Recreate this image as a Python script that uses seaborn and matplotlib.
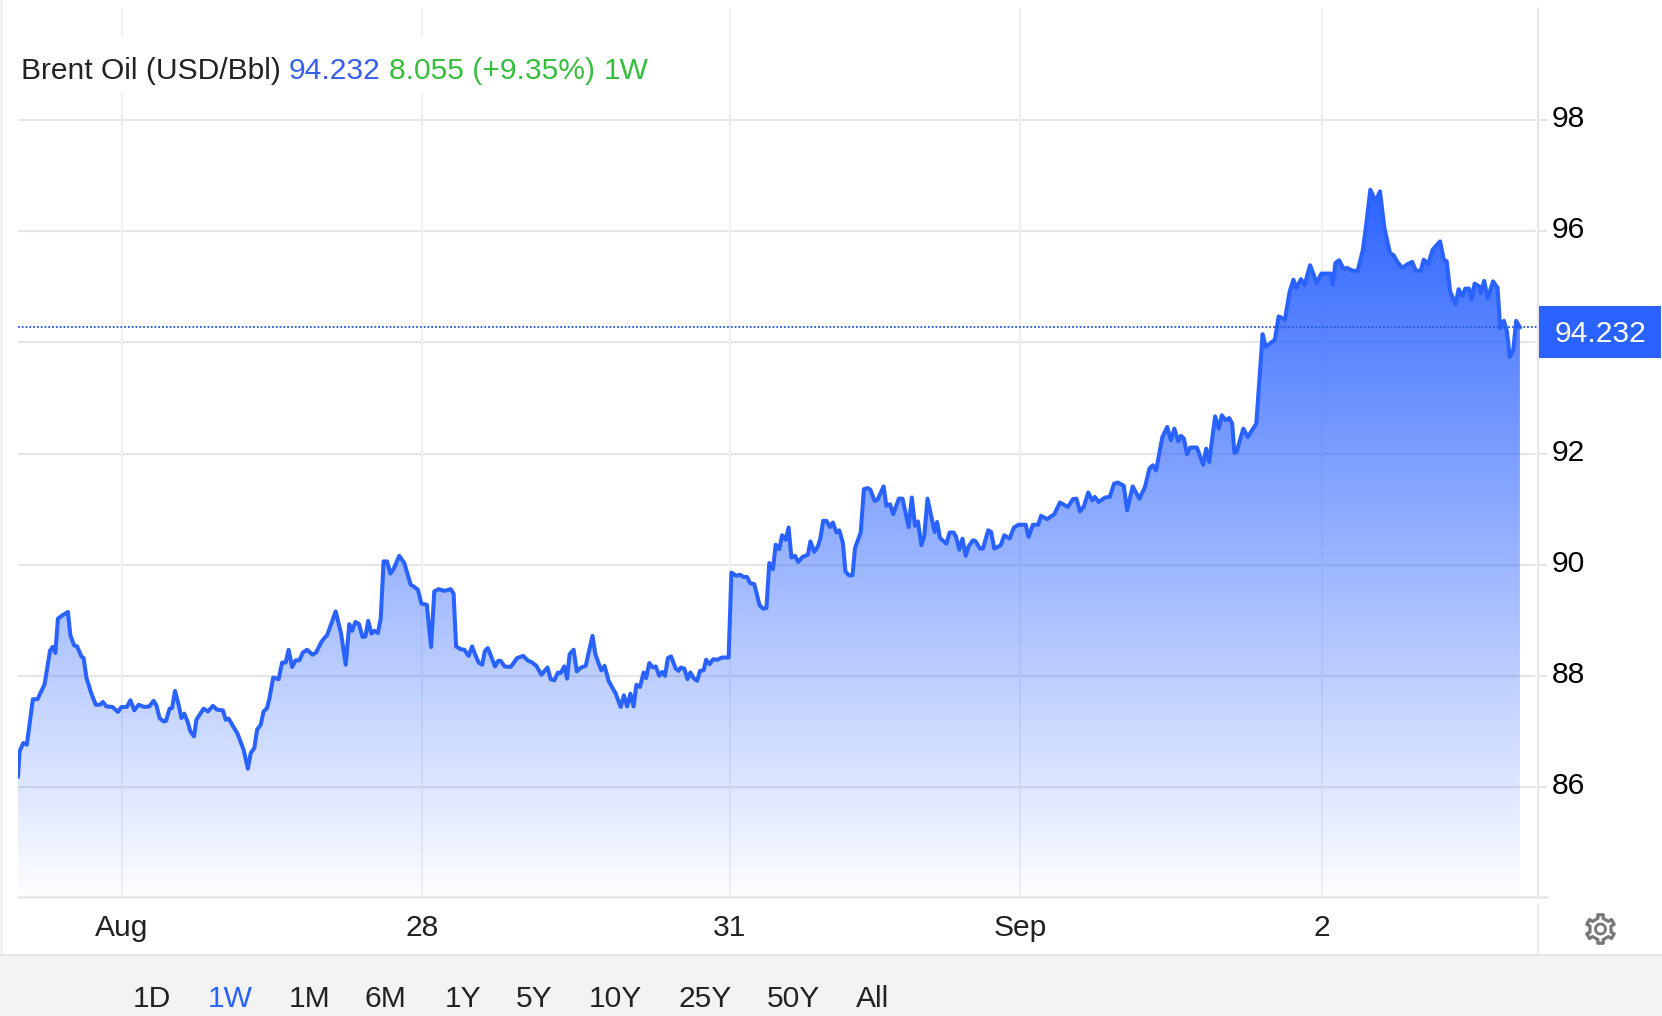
import numpy as np
import pandas as pd
import matplotlib
matplotlib.use("Agg")
import matplotlib.pyplot as plt
from matplotlib.colors import LinearSegmentedColormap
from matplotlib.lines import Line2D
from matplotlib.patches import Rectangle, Polygon
from matplotlib.transforms import ScaledTranslation
import seaborn as sns

# session position along the time axis
t = [0,1.6,5.2,8.8,14.9,19.5,26.6,32,34.5,37.4,39.9,44.5,49.9,52.4,56,59.1,63.4,65.6,68.4,73,77.7,82,84.9,88.4,94.5,99.9,103.4,108.8,112.4,116.3,120.6,126.3,131.3,135.6,138.4,141.6,145.6,148,151.6,154.1,157,160.6,163.4,166.3,169.5,172.4,176,178.4,185.6,189.9,194.9,199.1,204.9,207.7,210.6,219.5,225.6,229.9,232.7,236.3,239.1,242.7,245.6,249.1,251.6,255.2,260.6,264.1,267.7,270.6,274.1,277.7,281.3,284.9,289.1,294.5,298.1,303.4,306.3,309.1,317.7,323.1,327.7,331.3,334.1,337.4,341,344.5,347.4,350.2,353.4,356.3,359.9,362.7,365.6,369.1,372.4,376,381.3,386.3,392.7,395.6,399.9,403.4,408.8,413.1,416.3,420.6,426.6,432.7,435.6,438.1,442.7,446.3,450.6,454.1,457,460.6,464.1,467,469.9,477,480.2,482.7,486.6,492.7,499.1,505.2,509.5,514.1,518.4,523.4,529.5,532.7,536.3,539.9,
     542.7,546.3,549.1,551.6,555.6,558.8,563.1,567.7,574.5,577.4,580.9,583.4,586.6,590.6,597.7,602.7,605.9,609.1,612.4,615.6,618.4,622,625.6,628.1,631.3,634.9,637.7,641.3,644.1,647,649.9,653.1,657.7,660.6,662.7,666.3,669.5,672.4,675.6,679.1,682,685.6,688.1,691.6,695.2,699.5,703.8,710.6,713.4,718.4,722,725.6,729.1,732,736.3,741.6,745.2,748.4,751.3,754.9,757.7,761.3,764.1,767.7,770.6,773.4,777,780.2,784.5,789.9,792.4,796.3,799.9,802.4,805.2,808.4,812,814.9,818.4,821.3,824.9,827.4,830.9,834.5,837,842.7,845.9,849.9,852.4,856.6,859.5,865.6,868.4,872,875.2,880.9,884.5,890.6,893.8,897,899.9,903.4,906.3,909.5,916.6,919.1,922,928.4,931.6,935.6,938.1,941.3,944.5,947.7,950.6,954.9,957.7,962,964.9,970.2,973.1,976.3,982.7,986.3,991.6,995.9,1000.6,1007.7,1010.6,1014.9,1020.2,1023.1,1029.1,1036.3,1042,1049.9,1054.9,1058.4,1062,
     1065.7,1070.2,1074.2,1076.8,1080.6,1087.2,1091.7,1096.1,1099.9,1105.8,1109.1,1114.7,1121.4,1127,1131.4,1134.8,1138.1,1144.4,1149.2,1152.9,1156.3,1160.4,1163,1165.9,1168.9,1172.2,1178.9,1185.2,1188.2,1191.2,1197.1,1200.8,1203.8,1207.5,1211.2,1214.2,1216.4,1218.6,1225.3,1229.8,1238.3,1241.3,1244.6,1247.6,1256.9,1260.6,1266.9,1271.7,1275.4,1278.4,1282.9,1286.6,1292.1,1298.8,1303.3,1312.6,1314.8,1317.4,1321.1,1325.5,1329.3,1334.8,1339.7,1344.9,1348.6,1352.3,1357.5,1362,1366.4,1372,1375.7,1379.4,1384.2,1388.6,1394.2,1397.9,1402.8,1405.7,1410.2,1414.6,1422.1,1425.8,1428.7,1432.1,1437.6,1440.6,1444.3,1447.3,1451,1453.6,1456.6,1461,1462.9,1466.2,1469.6,1475.1,1479.6,1482.2,1485.9,1488.9,1491.8,1495.2,1498.2,1501.9]

price = [86.18,86.64,86.79,86.76,87.58,87.58,87.85,88.45,88.52,88.41,89.03,89.09,89.15,88.73,88.55,88.53,88.35,88.32,87.97,87.70,87.48,87.48,87.53,87.45,87.44,87.35,87.44,87.44,87.56,87.38,87.48,87.44,87.45,87.55,87.47,87.24,87.18,87.19,87.41,87.42,87.73,87.48,87.24,87.32,87.18,87.0,86.91,87.21,87.41,87.36,87.46,87.39,87.38,87.21,87.23,86.96,86.67,86.33,86.61,86.70,87.03,87.12,87.36,87.42,87.61,87.97,87.94,88.24,88.24,88.47,88.16,88.28,88.28,88.42,88.47,88.38,88.42,88.61,88.68,88.73,89.16,88.76,88.2,88.93,88.81,88.97,88.93,88.7,88.71,88.99,88.76,88.81,88.77,89.03,90.06,90.06,89.84,89.94,90.16,90.03,89.64,89.61,89.55,89.3,89.28,88.52,89.52,89.56,89.53,89.56,89.48,88.53,88.48,88.47,88.36,88.53,88.39,88.24,88.2,88.45,88.5,88.17,88.27,88.27,88.17,88.16,88.32,88.36,88.28,88.24,88.18,88.02,88.15,87.94,87.92,88.06,
         88.05,88.17,87.95,88.39,88.47,88.08,88.15,88.18,88.72,88.39,88.21,88.10,88.18,87.91,87.68,87.44,87.65,87.45,87.68,87.45,87.84,87.8,88.06,87.96,88.23,88.15,88.17,88.0,88.07,88.0,88.32,88.35,88.13,88.09,88.15,88.13,87.94,88.06,87.96,87.91,88.09,88.1,88.29,88.21,88.3,88.29,88.33,88.33,89.86,89.8,89.82,89.78,89.78,89.67,89.65,89.27,89.21,89.22,90.03,89.92,90.36,90.28,90.53,90.45,90.67,90.13,90.16,90.05,90.14,90.18,90.42,90.23,90.33,90.48,90.79,90.79,90.68,90.76,90.58,90.62,90.39,89.88,89.81,89.81,90.3,90.58,91.36,91.38,91.35,91.15,91.17,91.41,91.06,91.09,90.91,91.19,91.19,90.68,91.21,90.7,90.78,90.35,90.52,91.19,90.59,90.77,90.48,90.38,90.58,90.58,90.5,90.27,90.47,90.16,90.33,90.44,90.42,90.29,90.29,90.62,90.59,90.29,90.35,90.53,90.47,90.67,90.72,90.72,90.5,90.72,90.72,90.88,90.82,90.91,91.12,91.04,91.18,91.19,90.96,
         91.04,91.3,91.16,91.22,91.13,91.21,91.22,91.46,91.48,91.42,90.98,91.41,91.19,91.4,91.73,91.79,91.7,92.3,92.48,92.24,92.45,92.22,92.32,92.27,91.99,92.11,92.11,91.8,92.09,91.85,92.67,92.45,92.69,92.6,92.64,92.54,92.01,92.03,92.45,92.3,92.54,93.32,94.15,93.92,94.05,94.47,94.41,94.92,95.13,94.98,95.14,95.04,95.39,95.07,95.24,95.24,95.04,95.43,95.48,95.33,95.34,95.29,95.29,95.67,96.18,96.75,96.54,96.72,96.06,95.61,95.57,95.45,95.34,95.4,95.45,95.29,95.29,95.49,95.41,95.67,95.82,95.49,95.46,94.92,94.69,94.96,94.83,94.97,94.97,94.77,95.06,95.01,94.89,95.11,94.8,95.1,94.98,94.26,94.39,94.2,93.74,93.86,94.39,94.27]

last_level = 94.27
last_label = "94.232"
y_ticks = [86, 88, 90, 92, 94, 96, 98]
y_tick_labels = ["86", "88", "90", "92", "", "96", "98"]
x_tick_pos = [104, 404, 712, 1002, 1304]
x_tick_labels = ["Aug", "28", "31", "Sep", "2"]
ranges = ["1D", "1W", "1M", "6M", "1Y", "5Y", "10Y", "25Y", "50Y", "All"]
range_x = [133, 208, 289, 365, 445, 516, 589, 678, 767, 856]
title_parts = [("Brent Oil (USD/Bbl)", "#222222", 21), ("94.232", "#3560ee", 289),
               ("8.055 (+9.35%)", "#35bd3c", 389), ("1W", "#35bd3c", 604)]

W, H = 1662, 1016
FS = 21.6
BLUE = "#2962ff"
GRID = "#e6e6e6"
VGRID = "#f0f0f2"

sns.set_theme(style="white")
plt.rcParams["font.family"] = ["Liberation Sans", "DejaVu Sans"]
fig = plt.figure(figsize=(W / 100, H / 100), dpi=100, facecolor="white")
fx = lambda p: p / W
fy = lambda p: 1 - p / H

L, R, T, B = 18, 1538, 8, 897
ax = fig.add_axes([fx(L), fy(B), fx(R - L), (B - T) / H])
ax.set_facecolor("white")

df = pd.DataFrame({"t": t, "price": price})
ymin, ymax = 84.02, 100.02

for v in y_ticks:
    ax.plot([0, 1517], [v, v], color=GRID, lw=1.5, zorder=1)
for p in x_tick_pos:
    ax.axvline(p, color=VGRID, lw=1.4, zorder=1)

# gradient fill clipped to the area below the line
poly = ax.fill_between(df["t"], df["price"], ymin, color="none", lw=0)
cmap = LinearSegmentedColormap.from_list("f", [(0.161, 0.384, 1.0, 0.01), (0.161, 0.384, 1.0, 1.0)])
grad = np.linspace(1, 0, 256).reshape(-1, 1)
im = ax.imshow(grad, extent=[0, df["t"].max(), ymin, 97.0], aspect="auto", cmap=cmap,
               origin="upper", zorder=2, vmin=0, vmax=1, interpolation="bilinear")
im.set_clip_path(poly.get_paths()[0], transform=ax.transData)

sns.lineplot(data=df, x="t", y="price", ax=ax, color=BLUE, lw=2.9, estimator=None,
             sort=False, zorder=3, solid_joinstyle="round")
ax.axhline(last_level, color="#2458d8", lw=1.3, ls=(0, (1, 1.1)), zorder=4)

ax.set_xlim(0, R - L)
ax.set_ylim(ymin, ymax)
ax.set_xlabel("")
ax.set_ylabel("")
for s in ["top", "left", "bottom"]:
    ax.spines[s].set_visible(False)
ax.spines["right"].set_color(GRID)
ax.spines["right"].set_linewidth(1.4)

ax.yaxis.tick_right()
ax.set_yticks(y_ticks)
ax.set_yticklabels(y_tick_labels)
ax.set_xticks(x_tick_pos)
ax.set_xticklabels(x_tick_labels)
ax.tick_params(axis="y", length=6.5, width=1.4, color=GRID, pad=3.5, labelsize=FS,
               labelcolor="#000000", right=True, left=False)
ax.tick_params(axis="x", length=0, pad=12, labelsize=FS, labelcolor="#222222", bottom=True)
shift = ScaledTranslation(0, 4 / 100, fig.dpi_scale_trans)
for lab in ax.get_yticklabels():
    lab.set_transform(lab.get_transform() + shift)

# white header behind the title
fig.add_artist(Rectangle((fx(L), fy(93)), fx(645), 56 / H, color="white", lw=0, zorder=5))
for txt, col, xp in title_parts:
    fig.text(fx(xp), fy(71), txt, color=col, fontsize=FS, va="center", ha="left", zorder=6)

# frame pieces
fig.add_artist(Line2D([fx(L), fx(1547)], [fy(897), fy(897)], color=GRID, lw=1.8, zorder=6))
fig.add_artist(Line2D([fx(R), fx(R)], [fy(903), fy(955)], color=GRID, lw=1.2, zorder=6))
fig.add_artist(Line2D([fx(1), fx(1)], [fy(0), fy(955)], color=GRID, lw=1.0, zorder=6))

# last price tag
fig.add_artist(Rectangle((fx(1539), fy(358)), fx(122), 52 / H, color=BLUE, lw=0, zorder=6))
fig.text(fx(1600), fy(334), last_label, color="white", fontsize=FS, ha="center",
         va="center", zorder=7)

# range bar
fig.add_artist(Rectangle((0, 0), 1, (H - 955) / H, color="#f3f3f3", lw=0, zorder=5))
fig.add_artist(Line2D([0, 1], [fy(955), fy(955)], color=GRID, lw=1.4, zorder=6))
for lab, xp in zip(ranges, range_x):
    fig.text(fx(xp), fy(999), lab, color=BLUE if lab == "1W" else "#222222", fontsize=FS,
             va="center", ha="left", zorder=7)

# settings icon
cx, cy = 1600.5, 929
gear = []
for k in range(6):
    a0 = np.pi / 2 + k * np.pi / 3
    for da, r in [(-0.52, 10.5), (-0.24, 11), (-0.19, 14.5), (0.19, 14.5), (0.24, 11)]:
        gear.append((fx(cx + r * np.cos(a0 + da)), fy(cy - r * np.sin(a0 + da))))
fig.add_artist(Polygon(gear, closed=True, fill=False, ec="#777777", lw=2.3, joinstyle="round",
                       transform=fig.transFigure, zorder=7))
ring = np.linspace(0, 2 * np.pi, 40)
fig.add_artist(Polygon([(fx(cx + 5 * np.cos(a)), fy(cy - 5 * np.sin(a))) for a in ring], closed=True,
                       fill=False, ec="#777777", lw=2.0, transform=fig.transFigure, zorder=7))

fig.savefig("out.png", dpi=100)
